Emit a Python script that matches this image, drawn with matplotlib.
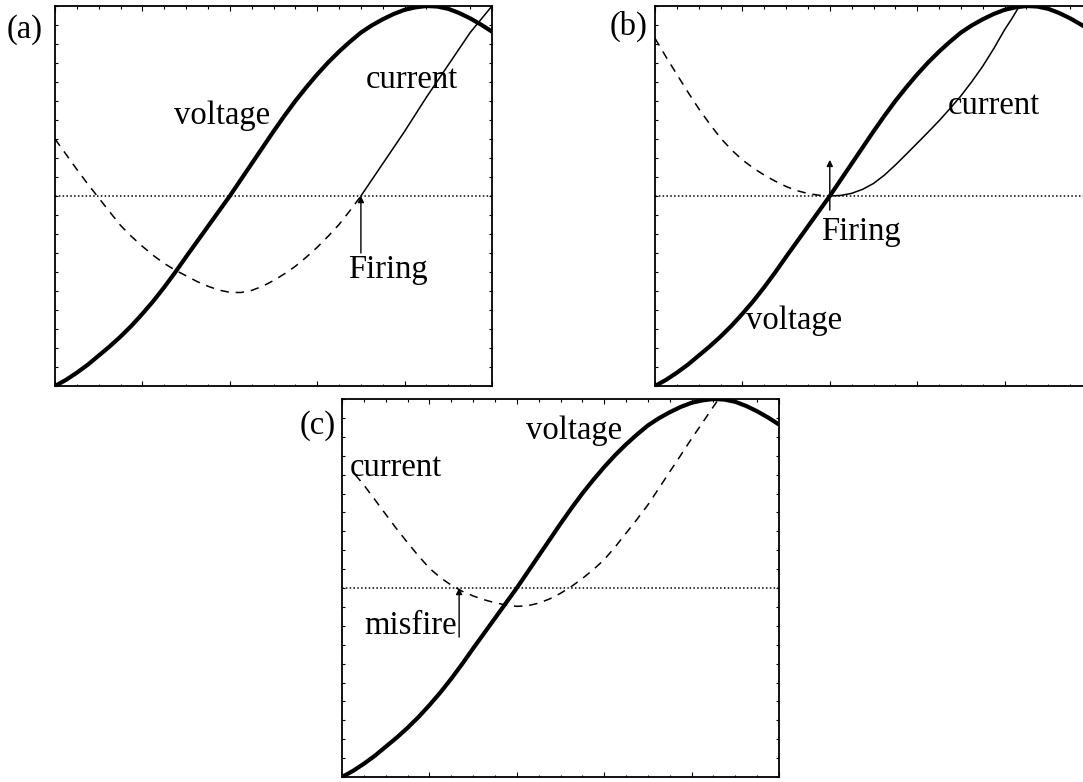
import matplotlib
matplotlib.use("Agg")
import matplotlib.pyplot as plt
from matplotlib.ticker import MultipleLocator

# phase axis, in units of the major tick spacing
phase = [0.0, 0.125, 0.25, 0.375, 0.5, 0.625, 0.75, 0.875, 1.0, 1.125, 1.25, 1.375,
         1.5, 1.625, 1.75, 1.875, 2.0, 2.125, 2.25, 2.375, 2.5, 2.625, 2.75, 2.875,
         3.0, 3.125, 3.25, 3.375, 3.5, 3.625, 3.75, 3.875, 4.0, 4.125, 4.25, 4.375,
         4.5, 4.625, 4.75, 4.875, 5.0]
voltage = [-1.0, -0.968, -0.93, -0.888, -0.84, -0.792, -0.74, -0.683, -0.62, -0.553,
           -0.48, -0.402, -0.32, -0.24, -0.16, -0.08, 0.0, 0.085, 0.17, 0.255, 0.34,
           0.422, 0.50, 0.572, 0.64, 0.703, 0.76, 0.812, 0.86, 0.898, 0.93, 0.958,
           0.98, 0.993, 1.0, 0.997, 0.985, 0.963, 0.935, 0.902, 0.865]

# (a) firing late on the rising current
a_pre_x = [0.0, 0.125, 0.25, 0.375, 0.5, 0.625, 0.75, 0.875, 1.0, 1.125, 1.25, 1.375,
           1.5, 1.625, 1.75, 1.875, 2.0, 2.125, 2.25, 2.375, 2.5, 2.625, 2.75, 2.875,
           3.0, 3.125, 3.25, 3.375, 3.5]
a_pre_i = [0.30, 0.22, 0.14, 0.063, -0.01, -0.083, -0.155, -0.213, -0.265, -0.313,
           -0.355, -0.39, -0.42, -0.45, -0.475, -0.495, -0.507, -0.508, -0.497, -0.475,
           -0.445, -0.41, -0.37, -0.322, -0.27, -0.212, -0.15, -0.077, 0.0]
a_post_x = [3.5, 3.75, 4.0, 4.25, 4.5, 4.75, 5.0]
a_post_i = [0.0, 0.17, 0.34, 0.52, 0.69, 0.86, 1.0]

# (b) firing at the current minimum
b_pre_x = [0.0, 0.125, 0.25, 0.375, 0.5, 0.625, 0.75, 0.875, 1.0, 1.125, 1.25, 1.375,
           1.5, 1.625, 1.75, 1.875, 2.0]
b_pre_i = [0.83, 0.733, 0.64, 0.548, 0.46, 0.38, 0.305, 0.243, 0.19, 0.147, 0.11,
           0.078, 0.05, 0.028, 0.013, 0.004, 0.0]
b_post_x = [2.0, 2.125, 2.25, 2.375, 2.5, 2.625, 2.75, 2.875, 3.0, 3.125, 3.25, 3.375,
            3.5, 3.625, 3.75, 3.875, 4.0, 4.085, 4.17]
b_post_i = [0.0, 0.003, 0.014, 0.035, 0.066, 0.11, 0.163, 0.22, 0.278, 0.336, 0.396,
            0.46, 0.527, 0.602, 0.683, 0.775, 0.875, 0.935, 1.0]

# (c) misfire
c_x = [0.15, 0.25, 0.375, 0.5, 0.625, 0.75, 0.875, 1.0, 1.125, 1.25, 1.375, 1.5,
       1.625, 1.75, 1.875, 2.0, 2.125, 2.25, 2.375, 2.5, 2.625, 2.75, 2.875, 3.0,
       3.125, 3.25, 3.375, 3.5, 3.625, 3.75, 3.875, 4.0, 4.125, 4.25, 4.31]
c_i = [0.60, 0.545, 0.468, 0.39, 0.313, 0.24, 0.17, 0.105, 0.055, 0.015, -0.017,
       -0.042, -0.062, -0.078, -0.09, -0.097, -0.094, -0.08, -0.058, -0.028, 0.008,
       0.05, 0.097, 0.15, 0.217, 0.29, 0.363, 0.44, 0.527, 0.615, 0.702, 0.79, 0.875,
       0.96, 1.0]

FONT = "Liberation Serif"
FS = 23.5
W, H = 1083, 782


def setup(ax):
    ax.set_xlim(0, 5)
    ax.set_ylim(-1, 1)
    ax.xaxis.set_major_locator(MultipleLocator(1))
    ax.xaxis.set_minor_locator(MultipleLocator(0.25))
    ax.yaxis.set_major_locator(MultipleLocator(0.1))
    ax.tick_params(which="both", direction="in", top=True, right=True,
                   labelbottom=False, labelleft=False, width=0.8)
    ax.tick_params(axis="x", which="major", length=3.6)
    ax.tick_params(axis="x", which="minor", length=1.8)
    ax.tick_params(axis="y", which="major", length=2.2)
    for s in ax.spines.values():
        s.set_linewidth(1.3)
    ax.axhline(0, color="k", lw=1.1, ls=(0, (1, 1.5)))
    ax.plot(phase, voltage, color="k", lw=3.0, solid_capstyle="round",
            solid_joinstyle="round")


def label(ax, x, y, s):
    ax.text(x, y, s, family=FONT, fontsize=FS, ha="left", va="baseline")


def arrow(ax, x, y0, y1):
    ax.annotate("", xy=(x, y1), xytext=(x, y0),
                arrowprops=dict(arrowstyle="-|>", color="k", lw=1.0,
                                mutation_scale=9, shrinkA=0, shrinkB=0))


def main():
    fig = plt.figure(figsize=(W / 100, H / 100), dpi=100)

    dash = (0, (5.5, 4.5))

    ax = fig.add_axes([55 / W, 1 - 386 / H, 437 / W, 380 / H])
    setup(ax)
    ax.plot(a_pre_x, a_pre_i, color="k", lw=1.1, ls=dash)
    ax.plot(a_post_x, a_post_i, color="k", lw=1.1)
    arrow(ax, 3.5, -0.30, 0.0)
    label(ax, 1.36, 0.38, "voltage")
    label(ax, 3.56, 0.57, "current")
    label(ax, 3.35, -0.43, "Firing")

    ax = fig.add_axes([655 / W, 1 - 386 / H, 437 / W, 380 / H])
    setup(ax)
    ax.plot(b_pre_x, b_pre_i, color="k", lw=1.1, ls=dash)
    ax.plot(b_post_x, b_post_i, color="k", lw=1.1)
    arrow(ax, 2.0, -0.074, 0.19)
    label(ax, 3.35, 0.43, "current")
    label(ax, 1.90, -0.234, "Firing")
    label(ax, 1.045, -0.70, "voltage")

    ax = fig.add_axes([342 / W, 1 - 777 / H, 437 / W, 378 / H])
    setup(ax)
    ax.plot(c_x, c_i, color="k", lw=1.1, ls=dash)
    arrow(ax, 1.34, -0.26, 0.0)
    label(ax, 2.10, 0.79, "voltage")
    label(ax, 0.09, 0.59, "current")
    label(ax, 0.26, -0.245, "misfire")

    for s, x, y in [("(a)", 7, 38), ("(b)", 610, 35), ("(c)", 300, 434)]:
        fig.text(x / W, 1 - y / H, s, family=FONT, fontsize=FS, ha="left", va="baseline")

    fig.savefig("out.png", dpi=100)


if __name__ == '__main__':
    main()
